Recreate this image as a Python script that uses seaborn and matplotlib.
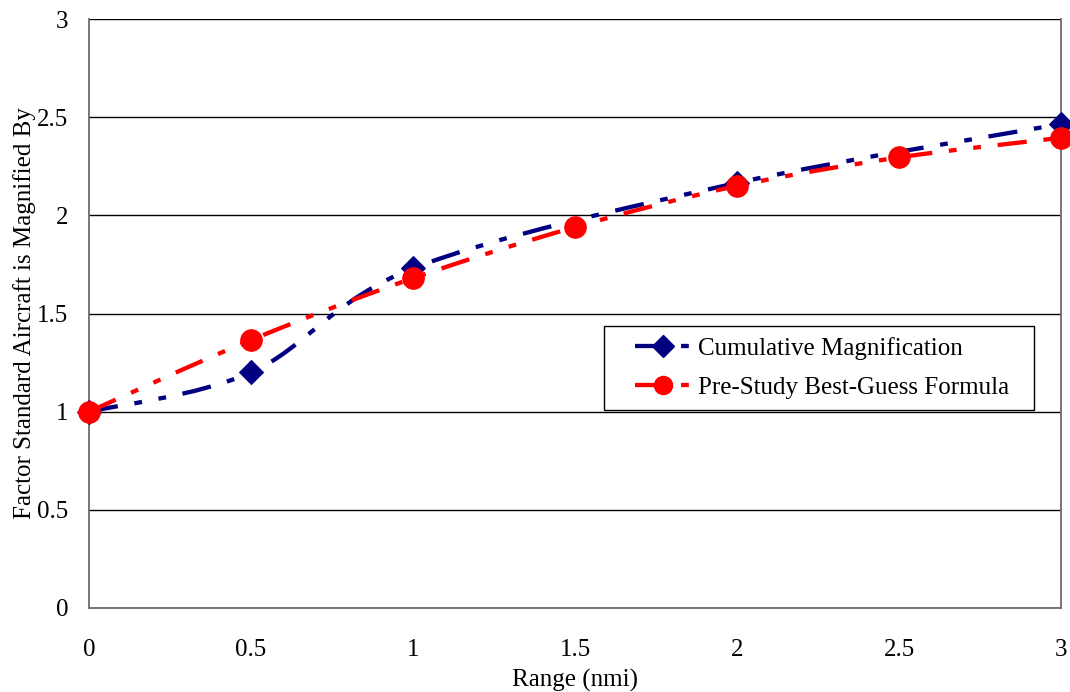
import matplotlib
matplotlib.use("Agg")
import matplotlib.pyplot as plt
import seaborn as sns
import pandas as pd
from matplotlib.path import Path
from matplotlib.patches import PathPatch
from matplotlib.lines import Line2D
from matplotlib.legend_handler import HandlerLine2D

# data
cum_x = [0, 0.5, 1, 2, 3]
cum_y = [1.0, 1.2, 1.73, 2.165, 2.465]
guess_x = [0, 0.5, 1, 1.5, 2, 2.5, 3]
guess_y = [1.0, 1.365, 1.68, 1.94, 2.15, 2.295, 2.395]

names = ["Cumulative Magnification", "Pre-Study Best-Guess Formula"]
colors = ["#000080", "#FF0000"]

sns.set_style("white")
plt.rcParams["font.family"] = ["Liberation Serif", "DejaVu Serif"]
plt.rcParams["font.size"] = 18
plt.rcParams["text.color"] = "black"
plt.rcParams["axes.labelcolor"] = "black"


def smooth_path(xs, ys):
    # excel-like smoothed line: cubic bezier through every point
    n = len(xs)
    verts = [(xs[0], ys[0])]
    codes = [Path.MOVETO]
    for i in range(n - 1):
        x0, y0 = xs[max(i - 1, 0)], ys[max(i - 1, 0)]
        x1, y1 = xs[i], ys[i]
        x2, y2 = xs[i + 1], ys[i + 1]
        x3, y3 = xs[min(i + 2, n - 1)], ys[min(i + 2, n - 1)]
        c1 = (x1 + (x2 - x0) / 6, y1 + (y2 - y0) / 6)
        c2 = (x2 - (x3 - x1) / 6, y2 - (y3 - y1) / 6)
        verts += [c1, c2, (x2, y2)]
        codes += [Path.CURVE4] * 3
    return Path(verts, codes)


lw = 3.1
dash = (0, (6.8, 3.9, 1.8, 3.9, 1.8, 3.9))

fig = plt.figure(figsize=(10.7, 6.92), dpi=100)
ax = fig.add_axes([0.0832, 0.1214, 0.9084, 0.8511])

series = [(cum_x, cum_y, "D", 12.5), (guess_x, guess_y, "o", 15.5)]
for k, (xs, ys, mk, ms) in enumerate(series):
    ax.add_patch(PathPatch(smooth_path(xs, ys), fill=False, edgecolor=colors[k],
                           lw=lw, linestyle=dash, zorder=3 + 2 * k,
                           capstyle="butt"))
    df = pd.DataFrame({"x": xs, "y": ys})
    sns.lineplot(data=df, x="x", y="y", ax=ax, marker=mk, markersize=ms,
                 color=colors[k], markeredgecolor=colors[k], linestyle="",
                 zorder=4 + 2 * k, clip_on=False)

ticks = [0, 0.5, 1, 1.5, 2, 2.5, 3]
labels = ["0", "0.5", "1", "1.5", "2", "2.5", "3"]
ax.set_xlim(0, 3)
ax.set_ylim(0, 3)
ax.set_xticks(ticks)
ax.set_xticklabels(labels)
ax.set_yticks(ticks)
ax.set_yticklabels(labels)
ax.yaxis.grid(True, color="black", lw=1)
ax.set_axisbelow(True)
for s in ax.spines.values():
    s.set_color("#6b6b6b")
    s.set_linewidth(1.3)
ax.spines["top"].set_visible(False)
ax.tick_params(axis="both", length=7, width=1.2, color="#6b6b6b",
               labelcolor="black", direction="out", labelsize=18, pad=15)
ax.tick_params(axis="y", pad=8)
ax.set_xlabel("Range (nmi)", fontsize=18, labelpad=6, color="black")
ax.set_ylabel("Factor Standard Aircraft is Magnified By", fontsize=18, labelpad=1,
              color="black")

handles = [Line2D([], [], color=colors[0], lw=lw, linestyle=dash, marker="D", markersize=11),
           Line2D([], [], color=colors[1], lw=lw, linestyle=dash, marker="o", markersize=13)]
hmap = {h: HandlerLine2D(numpoints=1, xpad=0.8) for h in handles}
leg = ax.legend(handles, names, loc="lower left", bbox_to_anchor=(0.53, 0.336, 0.442, 0.143),
                mode="expand", frameon=True, fancybox=False, edgecolor="black",
                fontsize=18, handlelength=3.0, handletextpad=0.3, handler_map=hmap,
                borderpad=0.45, labelspacing=0.65, framealpha=1, borderaxespad=0)
leg.get_frame().set_linewidth(1)
for t in leg.get_texts():
    t.set_color("black")

fig.savefig("out.png", dpi=100)
